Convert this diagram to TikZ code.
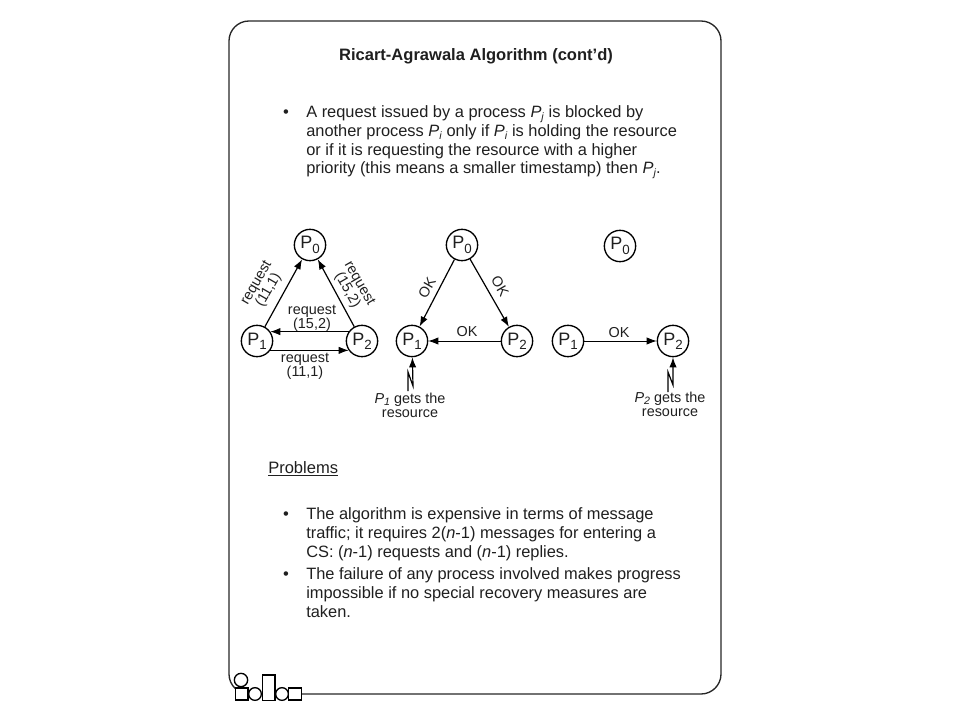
\documentclass[tikz,border=0pt]{standalone}
\usepackage{fontspec}
\setmainfont{Liberation Sans}
\usepackage{xcolor}
\usetikzlibrary{positioning, arrows.meta}

\definecolor{inkgray}{gray}{0.12}
\newcommand{\proc}[1]{\textit{P}\raisebox{-0.35ex}{\footnotesize\textit{#1}}}
\newcommand{\pnum}[1]{P\raisebox{-0.45ex}{\fontsize{10}{10}\selectfont #1}}

\begin{document}
\begin{tikzpicture}[
    x=0.75pt, y=-0.75pt,
    every node/.style={font=\fontsize{10.8}{11}\selectfont, text=inkgray, inner sep=0pt}, % small diagram text
    proc/.style={draw=black, circle, line width=1pt, minimum size=23.5pt, font=\fontsize{13.5}{14}\selectfont},
    body/.style={align=left, anchor=north west, font=\fontsize{12.3}{14.2}\selectfont},
    msg/.style={-{Latex[length=7.5pt,width=5.5pt]}, line width=0.9pt, draw=black},
    msgthin/.style={msg, line width=0.6pt},
    small/.style={align=center, font=\fontsize{10.8}{10.5}\selectfont},
    logo/.style={draw=black, line width=1pt, fill=white}
]
    \useasboundingbox (0,0) rectangle (960,720);

    % Page frame
    \draw [draw=black!85, line width=1pt, rounded corners=15pt] (302,694) -- (721,694) -- (721,21) -- (229,21) -- (229,694) -- (241,694);

    % Title and text
    \node (title) at (476,56) {\fontsize{12.4}{14}\selectfont\bfseries Ricart-Agrawala Algorithm (cont’d)};
    \node (bulleta) at (286,114) {\fontsize{12.4}{14}\selectfont •};
    \node (texta) [body] at (306,105) {A request issued by a process \proc{j} is blocked by\\another process \proc{i} only if \proc{i} is holding the resource\\or if it is requesting the resource with a higher\\priority (this means a smaller timestamp) then \proc{j}.};
    \node (problems) [anchor=west] at (268,468.5) {\fontsize{12.4}{14}\selectfont\underline{Problems}};
    \node (bulletb) at (286,516) {\fontsize{12.4}{14}\selectfont •};
    \node (textb) [body] at (306,507) {The algorithm is expensive in terms of message\\traffic; it requires 2(\textit{n}-1) messages for entering a\\CS: (\textit{n}-1) requests and (\textit{n}-1) replies.};
    \node (bulletc) at (286,576) {\fontsize{12.4}{14}\selectfont •};
    \node (textc) [body] at (306,567) {The failure of any process involved makes progress\\impossible if no special recovery measures are\\taken.};

    % Place the nodes
    \node (p0a) [proc] at (310,245) {\pnum{0}};
    \node (p1a) [proc] at (257,341) {\pnum{1}};
    \node (p2a) [proc] at (362,341) {\pnum{2}};
    \node (p0b) [proc] at (462,245) {\pnum{0}};
    \node (p1b) [proc] at (412,341) {\pnum{1}};
    \node (p2b) [proc] at (517,341) {\pnum{2}};
    \node (p0c) [proc] at (620,246) {\pnum{0}};
    \node (p1c) [proc] at (568,341) {\pnum{1}};
    \node (p2c) [proc] at (673,341) {\pnum{2}};

    % Draw the edges
    \draw [msg] (p1a) -- (p0a);
    \draw [msg] (p2a) -- (p0a);
    \draw [msgthin] (p2a.145) -- (p1a.35);
    \draw [msgthin] (p1a.-35) -- (p2a.215);
    \draw [msg] (p0b) -- (p1b);
    \draw [msg] (p0b) -- (p2b);
    \draw [msgthin] (p2b) -- (p1b);
    \draw [msgthin] (p1c) -- (p2c);

    % Edge labels
    \node (reqa) [small, rotate=60] at (263,287) {request\\(11,1)};
    \node (reqb) [small, rotate=-60] at (353,287) {request\\(15,2)};
    \node (reqc) [small] at (312,318) {request\\(15,2)};
    \node (reqd) [small] at (305,366) {request\\(11,1)};
    \node (oka) [rotate=60] at (427,288) {OK};
    \node (okb) [rotate=-60] at (500,286) {OK};
    \node (okc) at (467,332) {OK};
    \node (okd) at (619,333) {OK};

    % Resource notes
    \coordinate (boltb) at (408,391);
    \draw [msg] (boltb) -- (408,372) -- (413,386) -- (p1b);
    \node (gotb) [small] at (410,405) {\proc{1} gets the\\resource};
    \coordinate (boltc) at (668,392);
    \draw [msg] (boltc) -- (668,372) -- (673,385) -- (p2c);
    \node (gotc) [small] at (670,404) {\proc{2} gets the\\resource};

    % Logo in the corner
    \node (logoa) [logo, rectangle, minimum width=9.5pt, minimum height=9pt] at (241.5,694) {};
    \node (logob) [logo, circle, minimum size=10pt] at (241,680) {};
    \node (logoc) [logo, circle, minimum size=9.5pt] at (255,694) {};
    \node (logod) [logo, rectangle, minimum width=9.5pt, minimum height=19pt] at (268.5,687.5) {};
    \node (logoe) [logo, circle, minimum size=9.5pt] at (282,694) {};
    \node (logof) [logo, rectangle, minimum width=10pt, minimum height=9pt] at (295,694) {};
\end{tikzpicture}
\end{document}
